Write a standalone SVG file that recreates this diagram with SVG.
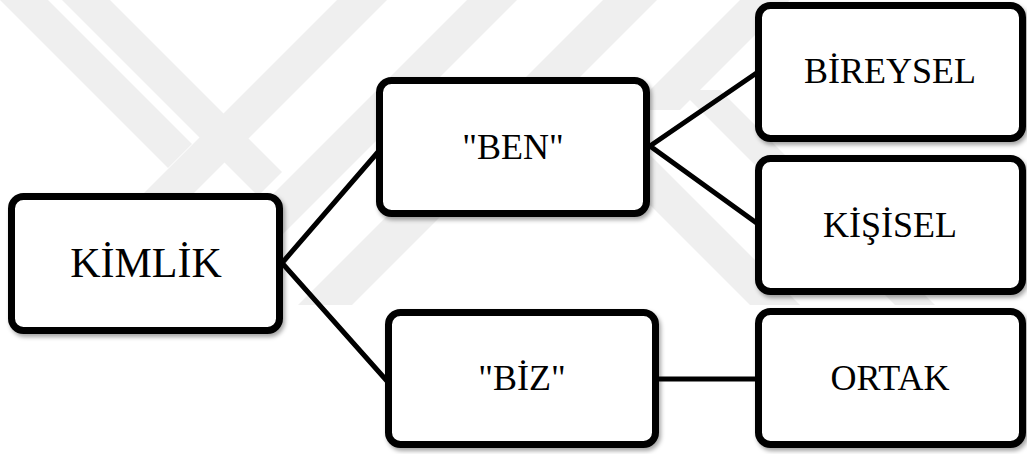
<svg xmlns="http://www.w3.org/2000/svg" width="1027" height="454" viewBox="0 0 1027 454">
  <defs>
    <filter id="shadow" x="-10%" y="-10%" width="130%" height="130%">
      <feDropShadow dx="2" dy="3" stdDeviation="2" flood-color="#000" flood-opacity="0.35"/>
    </filter>
    <clipPath id="wm-clip">
      <rect x="0" y="0" width="1027" height="306"/>
    </clipPath>
  </defs>
  <style>
    .box { fill: #fff; stroke: #000; stroke-width: 7; filter: url(#shadow); }
    .label { font-family: "Liberation Serif", "Times New Roman", serif; fill: #000; text-anchor: middle; }
    .wire { stroke: #000; stroke-width: 5; fill: none; }
    .wm { fill: #efefef; }
  </style>

  <rect width="1027" height="454" fill="#fff"/>

  <!-- faint background emblem: diagonal bands -->
  <g id="watermark" clip-path="url(#wm-clip)">
    <!-- bands rising to the right -->
    <polygon class="wm" points="337,0 387,0 82,305 32,305"/>
    <polygon class="wm" points="467,0 517,0 212,305 162,305"/>
    <polygon class="wm" points="603,0 657,0 352,305 298,305"/>
    <polygon class="wm" points="740,0 790,0 680,110 630,110"/>
    <!-- bands falling to the right -->
    <polygon class="wm" points="0,0 48,0 192,144 168,168 0,0"/>
    <polygon class="wm" points="62,0 110,0 282,172 258,196"/>
    <polygon class="wm" points="680,90 720,90 935,305 895,305"/>
    <polygon class="wm" points="595,150 645,150 800,305 750,305"/>
  </g>

  <!-- connectors -->
  <g id="connectors">
    <polyline class="wire" points="378,152 282,263 387,381"/>
    <polyline class="wire" points="758,72 650,146 758,224"/>
    <line class="wire" x1="659" y1="379" x2="756" y2="379"/>
  </g>

  <g id="kimlik">
    <rect class="box" x="11.5" y="196.5" width="268" height="134" rx="12"/>
    <text class="label" x="146" y="277" font-size="42">KİMLİK</text>
  </g>

  <g id="ben">
    <rect class="box" x="379.5" y="80.5" width="267" height="133" rx="12"/>
    <text class="label" x="513" y="159" font-size="36">"BEN"</text>
  </g>

  <g id="biz">
    <rect class="box" x="388.5" y="312.5" width="267" height="132" rx="12"/>
    <text class="label" x="522" y="390" font-size="36">"BİZ"</text>
  </g>

  <g id="bireysel">
    <rect class="box" x="758.5" y="5.5" width="264" height="133" rx="12"/>
    <text class="label" x="890" y="83" font-size="36">BİREYSEL</text>
  </g>

  <g id="kisisel">
    <rect class="box" x="758.5" y="158.5" width="264" height="133" rx="12"/>
    <text class="label" x="890" y="237" font-size="36">KİŞİSEL</text>
  </g>

  <g id="ortak">
    <rect class="box" x="758.5" y="311.5" width="264" height="133" rx="12"/>
    <text class="label" x="890" y="390" font-size="36">ORTAK</text>
  </g>
</svg>
